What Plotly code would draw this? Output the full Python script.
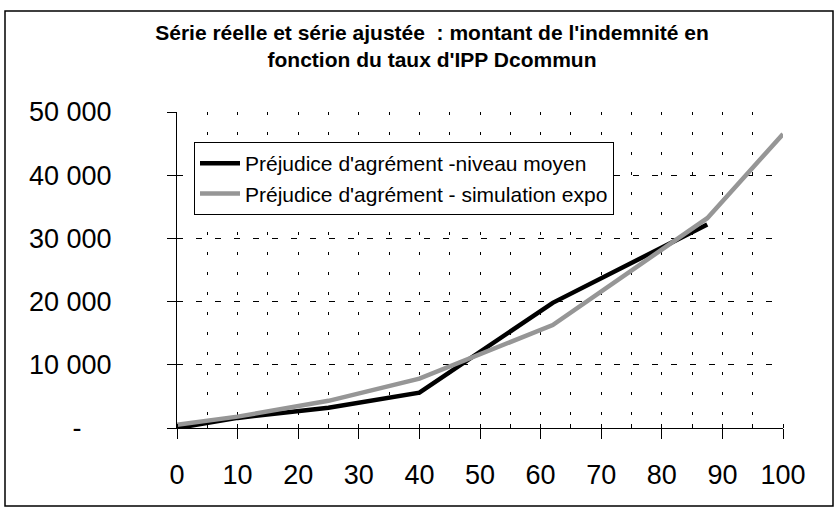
import plotly.graph_objects as go

# ---- data ----
taux_reel = [0, 10, 25, 40, 62, 87.5]
montant_reel = [0, 1600, 3200, 5600, 19800, 32200]

taux_sim = [0, 10, 25, 40, 62, 87.5, 100]
montant_sim = [500, 1800, 4300, 7800, 16300, 33200, 46500]

nom_reel = "Préjudice d'agrément -niveau moyen"
nom_sim = "Préjudice d'agrément - simulation expo"

x_ticks = [0, 10, 20, 30, 40, 50, 60, 70, 80, 90, 100]
y_ticks = [0, 10000, 20000, 30000, 40000, 50000]
y_ticktext = ["-\u00a0\u00a0\u00a0\u00a0", "10 000", "20 000", "30 000", "40 000", "50 000"]

title_text = "Série réelle et série ajustée  : montant de l'indemnité en<br>fonction du taux d'IPP Dcommun"

FONT = "Liberation Sans, Arial, sans-serif"

W, H = 839, 513
L, R, T, B = 177, 56, 112, 85
pw, ph = W - L - R, H - T - B

def px_x(p):
    return (p - L) / pw

def px_y(p):
    return (H - B - p) / ph

fig = go.Figure()
fig.add_trace(go.Scatter(x=taux_reel, y=montant_reel, mode="lines", name=nom_reel,
                         line=dict(color="black", width=4.5)))
fig.add_trace(go.Scatter(x=taux_sim, y=montant_sim, mode="lines", name=nom_sim,
                         line=dict(color="#969696", width=4.5)))

fig.update_layout(
    width=W, height=H,
    margin=dict(l=L, r=R, t=T, b=B, pad=0),
    paper_bgcolor="white", plot_bgcolor="white",
    font=dict(family=FONT, color="black"),
    title=dict(text=title_text, x=432 / W, xanchor="center", y=1 - 40 / H, yanchor="middle",
               font=dict(family=FONT, size=21, color="black", weight="bold")),
    showlegend=True,
    legend=dict(x=px_x(194), y=px_y(142), xanchor="left", yanchor="top",
                bgcolor="white", bordercolor="black", borderwidth=1,
                font=dict(family=FONT, size=21, color="black"),
                tracegroupgap=0, itemwidth=40),
    xaxis=dict(range=[0, 100], tickvals=x_ticks, ticktext=[str(v) for v in x_ticks],
               showline=True, linecolor="black", linewidth=1,
               ticks="outside", ticklen=10, tickcolor="black", tickwidth=1,
               showgrid=True, gridcolor="black", gridwidth=1, griddash="3px,17px",
               zeroline=False, tickfont=dict(family=FONT, size=27, color="black"),
               ticklabelstandoff=13,
               minor=dict(dtick=5, tick0=0, ticks="inside", ticklen=4, tickcolor="black",
                          showgrid=True, gridcolor="black", gridwidth=1, griddash="3px,17px")),
    yaxis=dict(range=[0, 50000], tickvals=y_ticks, ticktext=y_ticktext,
               showline=True, linecolor="black", linewidth=1,
               ticks="outside", ticklen=9, tickcolor="black", tickwidth=1,
               showgrid=True, gridcolor="black", gridwidth=1, griddash="6px,13px",
               zeroline=False, tickfont=dict(family=FONT, size=27, color="black"),
               ticklabelstandoff=50),
    shapes=[dict(type="rect", xref="paper", yref="paper",
                 x0=px_x(5), x1=px_x(833), y0=px_y(506), y1=px_y(11),
                 line=dict(color="black", width=1.5), fillcolor="rgba(0,0,0,0)", layer="below")],
)

fig.write_html("out.html",
               config={"displayModeBar": False, "staticPlot": True},
               post_script="document.body.style.margin='0px';document.body.style.overflow='hidden';")
